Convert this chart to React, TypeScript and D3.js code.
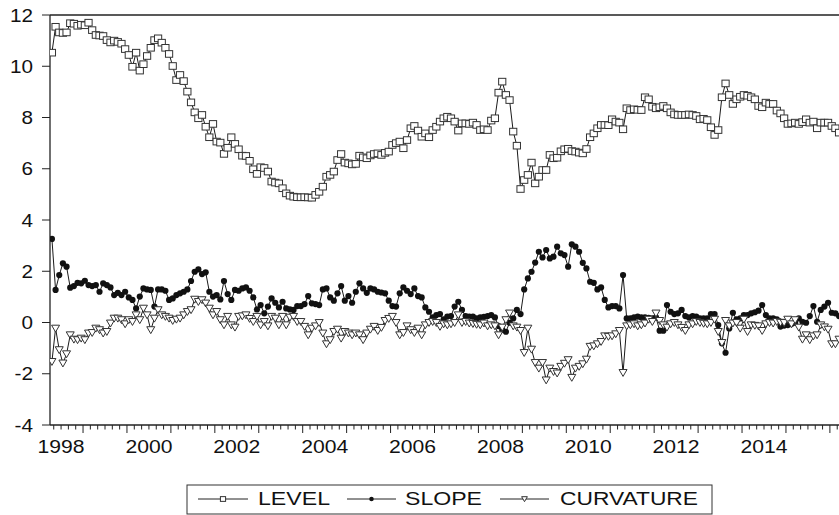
import React from "react";
import * as d3 from "d3";

// Monthly observations, April 1998 .. March 2016
const START_YEAR = 1998;
const START_MONTH_OFFSET = 3; // April (months since Jan 1998)

const level: number[] = [
  10.53, 11.54, 11.32, 11.3, 11.32, 11.68, 11.66, 11.58, 11.62,
  11.6, 11.7, 11.41, 11.22, 11.2, 11.18, 11.02, 10.93, 11.0, 10.95, 10.88, 10.67,
  10.44, 9.98, 10.53, 9.83, 10.08, 10.4, 10.72, 11.02, 11.09, 10.92, 10.72, 10.48,
  10.01, 9.46, 9.66, 9.42, 9.01, 8.59, 8.2, 7.97, 8.1, 7.64, 7.23, 7.75,
  7.06, 7.02, 6.58, 6.82, 7.23, 6.97, 6.76, 6.51, 6.5, 6.31, 5.98, 5.8,
  6.06, 6.03, 5.89, 5.5, 5.46, 5.43, 5.24, 5.04, 4.95, 4.91, 4.89, 4.885,
  4.89, 4.88, 4.87, 4.98, 5.1, 5.3, 5.69, 5.76, 5.89, 6.34, 6.575, 6.24,
  6.21, 6.17, 6.19, 6.51, 6.445, 6.41, 6.52, 6.575, 6.6, 6.54, 6.62, 6.67,
  6.93, 7.0, 7.06, 6.8, 7.12, 7.58, 7.67, 7.49, 7.25, 7.38, 7.23, 7.51,
  7.64, 7.84, 7.97, 8.03, 7.97, 7.84, 7.49, 7.77, 7.77, 7.75, 7.8, 7.71,
  7.51, 7.54, 7.51, 7.88, 7.97, 8.97, 9.4, 8.88, 8.68, 7.45, 6.9, 5.21,
  5.56, 5.76, 6.24, 5.43, 5.69, 5.95, 5.95, 6.54, 6.41, 6.43, 6.68, 6.76,
  6.78, 6.69, 6.67, 6.63, 6.6, 6.77, 7.23, 7.38, 7.58, 7.71, 7.71, 7.7,
  7.93, 7.84, 7.8, 7.54, 8.36, 8.29, 8.32, 8.3, 8.29, 8.79, 8.71, 8.42,
  8.36, 8.4, 8.45, 8.36, 8.2, 8.12, 8.1, 8.1, 8.1, 8.12, 8.1, 8.06,
  7.93, 7.95, 7.9, 7.62, 7.32, 7.51, 8.79, 9.33, 8.88, 8.53, 8.71, 8.81,
  8.88, 8.85, 8.79, 8.71, 8.45, 8.4, 8.58, 8.53, 8.53, 8.27, 8.16, 7.97,
  7.75, 7.77, 7.8, 7.75, 7.82, 7.93, 7.8, 7.84, 7.58, 7.8, 7.8, 7.8,
  7.67, 7.58, 7.41,
];

const slope: number[] = [
  3.26, 1.27, 1.85, 2.31, 2.18, 1.36, 1.42, 1.55, 1.53,
  1.63, 1.46, 1.42, 1.46, 1.2, 1.53, 1.46, 1.37, 1.07, 1.16, 1.07, 1.2,
  0.98, 0.88, 0.55, 1.01, 1.33, 1.29, 1.27, 0.62, 1.29, 1.29, 1.24, 0.88,
  0.94, 1.07, 1.14, 1.2, 1.29, 1.62, 1.98, 2.07, 1.89, 1.96, 1.2, 1.01,
  1.07, 0.9, 1.62, 1.11, 0.88, 1.27, 1.24, 1.33, 1.37, 1.24, 0.98, 0.51,
  0.68, 0.36, 0.62, 0.94, 0.77, 0.59, 0.81, 0.55, 0.51, 0.49, 0.64, 0.64,
  0.72, 1.03, 0.75, 0.72, 0.68, 1.29, 1.33, 0.98, 0.85, 1.14, 1.42, 0.85,
  1.03, 0.77, 1.2, 1.53, 1.33, 1.16, 1.33, 1.29, 1.2, 1.17, 1.14, 0.85,
  0.64, 0.62, 1.14, 1.37, 1.24, 1.11, 1.33, 1.03, 0.98, 0.59, 0.42, 0.2,
  0.29, 0.33, 0.12, 0.23, 0.25, 0.62, 0.81, 0.49, 0.25, 0.23, 0.23, 0.16,
  0.2, 0.22, 0.25, 0.29, 0.2, -0.14, -0.29, -0.36, -0.01, 0.16, 0.49, 0.33,
  1.29, 1.72, 1.98, 2.34, 2.76, 2.54, 2.83, 2.5, 2.57, 2.96, 2.7, 2.63,
  2.18, 3.05, 2.96, 2.76, 2.33, 2.11, 1.59, 1.55, 1.29, 1.37, 0.88, 0.59,
  0.64, 0.64, 0.55, 1.85, 0.16, 0.16, 0.2, 0.23, 0.2, 0.2, 0.18, 0.16,
  0.2, -0.32, -0.32, 0.68, 0.42, 0.33, 0.36, 0.49, 0.25, 0.2, 0.25, 0.23,
  0.16, 0.16, 0.16, 0.33, 0.33, -0.1, -0.81, -1.18, -0.23, 0.38, 0.12, 0.16,
  0.29, 0.29, 0.36, 0.4, 0.46, 0.68, 0.29, 0.16, 0.16, 0.12, -0.16, -0.12,
  -0.1, -0.06, -0.01, 0.16, 0.03, -0.01, 0.25, 0.64, 0.03, 0.49, 0.62, 0.77,
  0.38, 0.36, 0.25,
];

const curvature: number[] = [
  -1.53, -0.23, -1.07, -1.59, -1.23, -0.49, -0.66, -0.68, -0.62,
  -0.68, -0.42, -0.4, -0.23, -0.29, -0.42, -0.36, -0.03, 0.16, 0.16, 0.1, -0.06,
  0.1, 0.03, 0.29, 0.1, 0.55, 0.29, -0.29, 0.16, 0.49, 0.29, 0.23, 0.16,
  0.07, 0.12, 0.16, 0.29, 0.42, 0.49, 0.9, 0.81, 0.88, 0.75, 0.55, 0.29,
  0.42, 0.1, -0.1, 0.23, -0.1, -0.19, 0.23, 0.25, 0.29, 0.15, 0.03, 0.23,
  -0.1, 0.03, -0.14, 0.23, 0.16, -0.1, 0.23, -0.1, 0.2, 0.23, 0.03, 0.03,
  -0.16, -0.49, -0.23, -0.14, -0.01, -0.42, -0.84, -0.68, -0.36, -0.27, -0.62, -0.36,
  -0.42, -0.49, -0.42, -0.49, -0.68, -0.42, -0.27, -0.16, -0.32, -0.2, 0.07, 0.15,
  0.23, -0.01, -0.49, -0.4, -0.14, -0.29, -0.4, -0.23, -0.49, -0.1, -0.01, 0.03,
  -0.01, -0.16, -0.06, -0.1, -0.06, -0.01, 0.29, -0.01, 0.03, -0.03, -0.05, -0.08,
  -0.1, -0.03, -0.14, -0.1, -0.14, -0.49, -0.19, 0.1, 0.36, -0.14, -0.19, -0.32,
  -1.18, -0.23, -1.05, -1.57, -1.79, -1.57, -2.25, -1.79, -1.92, -1.98, -1.72, -1.6,
  -1.46, -2.15, -1.79, -1.72, -1.62, -1.44, -0.94, -0.92, -0.84, -0.75, -0.53, -0.55,
  -0.53, -0.45, -0.32, -1.96, -0.14, -0.1, -0.06, -0.14, -0.1, -0.03, 0.12, 0.03,
  0.36, 0.07, -0.1, -0.19, -0.06, -0.01, -0.1, -0.2, -0.32, -0.1, -0.06, 0.03,
  -0.01, -0.04, -0.06, -0.01, 0.12, -0.36, -0.79, 0.07, -0.14, -0.03, -0.01, -0.23,
  0.12, -0.36, -0.1, -0.12, -0.14, -0.32, -0.06, -0.01, -0.03, 0.03, 0.0, -0.01,
  0.12, -0.06, 0.1, -0.19, -0.66, -0.49, -0.68, -0.53, -0.49, -0.1, -0.18, -0.27,
  -0.84, -0.84, -0.66,
];

const yTicks: number[] = [-4, -2, 0, 2, 4, 6, 8, 10, 12];
const xLabelYears: number[] = [1998, 2000, 2002, 2004, 2006, 2008, 2010, 2012, 2014];
const legendNames: string[] = ["LEVEL", "SLOPE", "CURVATURE"];

const W = 839;
const H = 515;
const PL = 50;
const PR = 839;
const PT = 15;
const PB = 425;

const FONT = "'Liberation Sans', Arial, Helvetica, sans-serif";

type Pt = { m: number; v: number };

const toPts = (arr: number[]): Pt[] =>
  arr.map((v, k) => ({ m: START_MONTH_OFFSET + k, v }));

function Marker({ kind, x, y, small }: { kind: string; x: number; y: number; small?: boolean }) {
  const s = small ? 0.72 : 1;
  if (kind === "square") {
    return (
      <rect
        x={x - 3.6 * s}
        y={y - 3.3 * s}
        width={7.2 * s}
        height={6.6 * s}
        fill="#fff"
        stroke="#333"
        strokeWidth={1}
      />
    );
  }
  if (kind === "circle") {
    return <circle cx={x} cy={y} r={3.1 * s} fill="#111" />;
  }
  return (
    <path
      d={`M${x - 4 * s},${y - 3.2 * s}L${x + 4 * s},${y - 3.2 * s}L${x},${y + 3.7 * s}Z`}
      fill="#fff"
      stroke="#333"
      strokeWidth={1}
    />
  );
}

export default function App() {
  const x = d3.scaleLinear().domain([0, 216]).range([39.1, 829.9]);
  const y = d3.scaleLinear().domain([-4, 12]).range([PB, PT]);

  const line = d3
    .line<Pt>()
    .x((d) => x(d.m + 0.5))
    .y((d) => y(d.v));

  const series = [
    { name: legendNames[0], pts: toPts(level), kind: "square" },
    { name: legendNames[1], pts: toPts(slope), kind: "circle" },
    { name: legendNames[2], pts: toPts(curvature), kind: "triangle" },
  ];

  const monthTicks: number[] = d3.range(0, 230, 2).filter((m) => x(m) >= PL + 1 && x(m) <= PR);

  const legendItems = [
    { lx1: 198, lx2: 248, tx: 258, tw: 72 },
    { lx1: 347, lx2: 396, tx: 405, tw: 77 },
    { lx1: 500, lx2: 549, tx: 560, tw: 138 },
  ];

  return (
    <svg
      width={W}
      height={H}
      style={{ position: "absolute", left: 0, top: 0, background: "#fff" }}
      fontFamily={FONT}
    >
      <defs>
        <clipPath id="plotclip">
          <rect x={PL} y={PT - 6} width={PR - PL} height={PB - PT + 12} />
        </clipPath>
      </defs>
      <rect x={0} y={0} width={W} height={H} fill="#fff" />

      {/* frame */}
      <line x1={PL} y1={PT} x2={PR} y2={PT} stroke="#222" strokeWidth={1.3} />
      <line x1={PL} y1={PT} x2={PL} y2={PB} stroke="#222" strokeWidth={1.3} />
      <line x1={PL} y1={PB} x2={PR} y2={PB} stroke="#222" strokeWidth={1.3} />

      {/* y axis */}
      {yTicks.map((t) => (
        <g key={t}>
          <line x1={PL - 8} y1={y(t)} x2={PL} y2={y(t)} stroke="#222" strokeWidth={1} />
          <text
            x={33}
            y={y(t)}
            dy="0.36em"
            textAnchor="end"
            fontSize={18.5}
            fill="#111"
            textLength={String(t).length === 1 ? 11.5 : t < 0 ? 18.5 : 23}
            lengthAdjust="spacingAndGlyphs"
          >
            {t}
          </text>
        </g>
      ))}

      {/* x axis ticks */}
      {monthTicks.map((m) => (
        <line
          key={m}
          x1={x(m)}
          x2={x(m)}
          y1={PB}
          y2={PB + (m % 12 === 0 ? 8 : 4.5)}
          stroke="#222"
          strokeWidth={1}
        />
      ))}
      {xLabelYears.map((yr) => (
        <text
          key={yr}
          x={x((yr - START_YEAR) * 12 + 6)}
          y={453}
          textAnchor="middle"
          fontSize={17.5}
          fill="#111"
          textLength={47}
          lengthAdjust="spacingAndGlyphs"
        >
          {yr}
        </text>
      ))}

      {/* series */}
      <g clipPath="url(#plotclip)">
        {series.map((s) => (
          <g key={s.name}>
            <path d={line(s.pts) || ""} fill="none" stroke="#1a1a1a" strokeWidth={1} />
            {s.pts.map((p, k) => (
              <Marker key={k} kind={s.kind} x={x(p.m + 0.5)} y={y(p.v)} />
            ))}
          </g>
        ))}
      </g>

      {/* legend */}
      <rect x={187} y={485} width={525} height={29} fill="#fff" stroke="#333" strokeWidth={1} />
      {series.map((s, k) => {
        const it = legendItems[k];
        return (
          <g key={s.name}>
            <line x1={it.lx1} x2={it.lx2} y1={499} y2={499} stroke="#222" strokeWidth={1} />
            <Marker kind={s.kind} x={(it.lx1 + it.lx2) / 2} y={499} small />
            <text
              x={it.tx}
              y={505}
              fontSize={18}
              fill="#111"
              textLength={it.tw}
              lengthAdjust="spacingAndGlyphs"
            >
              {s.name}
            </text>
          </g>
        );
      })}
    </svg>
  );
}
